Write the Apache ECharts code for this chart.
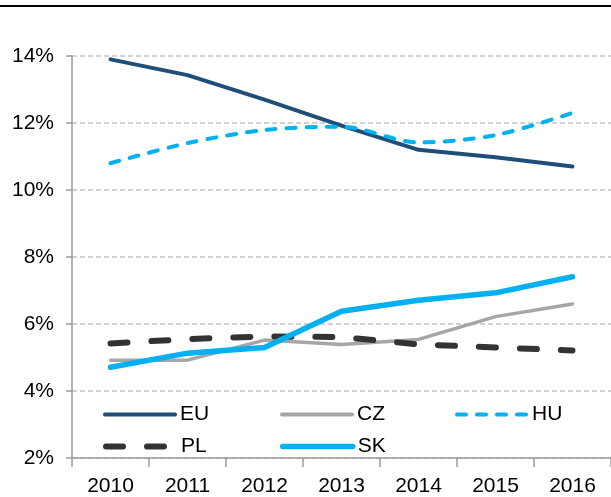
<!DOCTYPE html>
<html>
<head>
<meta charset="utf-8">
<script src="https://cdn.jsdelivr.net/npm/echarts@6/dist/echarts.min.js"></script>
<style>
  html, body { margin: 0; padding: 0; background: #fff; }
  #chart { width: 611px; height: 497px; }
</style>
</head>
<body>
<div id="chart"></div>
<script>
// 数据
const years = ['2010', '2011', '2012', '2013', '2014', '2015', '2016'];
const euValues = [13.9, 13.43, 12.7, 11.92, 11.2, 10.98, 10.7];
const czValues = [4.92, 4.92, 5.52, 5.39, 5.54, 6.22, 6.6];
const huValues = [10.8, 11.4, 11.79, 11.89, 11.42, 11.64, 12.3];
const plValues = [5.42, 5.55, 5.63, 5.61, 5.39, 5.3, 5.21];
const skValues = [4.71, 5.13, 5.3, 6.38, 6.71, 6.93, 7.41];
const yTicks = [2, 4, 6, 8, 10, 12, 14];

const FONT = '"Liberation Sans Narrow", "Liberation Sans", Arial, sans-serif';

const chart = echarts.init(document.getElementById('chart'));

// 单项图例（隐藏圆点，只留线段）
const legendAt = (name, left, top, width) => ({
  data: [name],
  left: left,
  top: top,
  itemWidth: 70,
  itemHeight: 14,
  itemGap: 0,
  padding: 0,
  itemStyle: { opacity: 0 },
  lineStyle: { width: width, cap: 'round' },
  textStyle: { fontFamily: FONT, fontSize: 21, color: '#000', padding: [0, 0, 0, 0] }
});

const option = {
  animation: false,
  backgroundColor: '#fff',
  textStyle: { fontFamily: FONT },
  grid: { left: 72, top: 56, width: 540, bottom: 38 },
  legend: [
    legendAt('EU', 103, 404, 4),
    legendAt('CZ', 280, 404, 4),
    legendAt('HU', 455, 404, 4),
    legendAt('PL', 103, 436, 6),
    legendAt('SK', 280, 436, 5.5)
  ],
  xAxis: {
    type: 'category',
    data: years,
    boundaryGap: true,
    axisLine: { lineStyle: { color: '#9a9a9a', width: 1.5 } },
    axisTick: { show: true, length: 9, lineStyle: { color: '#9a9a9a', width: 1.5 } },
    axisLabel: { color: '#000', fontSize: 21, fontFamily: FONT, margin: 18 },
    splitLine: { show: false }
  },
  yAxis: {
    type: 'value',
    min: yTicks[0],
    max: yTicks[yTicks.length - 1],
    interval: 2,
    axisLine: { show: true, lineStyle: { color: '#9a9a9a', width: 1.5 } },
    axisTick: { show: true, length: 6, lineStyle: { color: '#9a9a9a', width: 1.5 } },
    axisLabel: { color: '#000', fontSize: 21, fontFamily: FONT, margin: 18, formatter: '{value}%' },
    splitLine: { show: true, lineStyle: { color: '#c4c4c4', width: 1.5, type: [5, 3] } }
  },
  series: [
    {
      name: 'EU', type: 'line', data: euValues, symbol: 'none',
      lineStyle: { color: '#1f4e79', width: 4, cap: 'round' },
      itemStyle: { color: '#1f4e79' }
    },
    {
      name: 'CZ', type: 'line', data: czValues, symbol: 'none',
      lineStyle: { color: '#a6a6a6', width: 3.5, cap: 'round' },
      itemStyle: { color: '#a6a6a6' }
    },
    {
      name: 'HU', type: 'line', data: huValues, symbol: 'none', smooth: 0.3,
      lineStyle: { color: '#00b0f0', width: 4, type: [9, 11], cap: 'round' },
      itemStyle: { color: '#00b0f0' }
    },
    {
      name: 'PL', type: 'line', data: plValues, symbol: 'none',
      lineStyle: { color: '#333333', width: 6, type: [17, 24], cap: 'round' },
      itemStyle: { color: '#333333' }
    },
    {
      name: 'SK', type: 'line', data: skValues, symbol: 'none',
      lineStyle: { color: '#00b0f0', width: 5.5, cap: 'round' },
      itemStyle: { color: '#00b0f0' }
    }
  ],
  graphic: [
    { type: 'line', shape: { x1: 0, y1: 6, x2: 611, y2: 6 }, style: { stroke: '#000', lineWidth: 2 } }
  ]
};

chart.setOption(option);
</script>
</body>
</html>
